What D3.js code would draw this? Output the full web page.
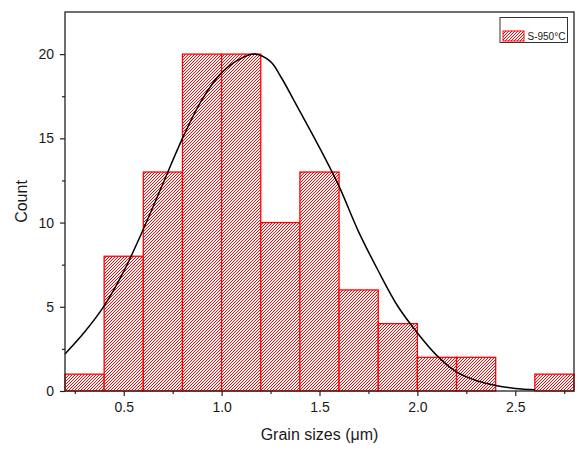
<!DOCTYPE html>
<html>
<head>
<meta charset="utf-8">
<script src="https://cdn.jsdelivr.net/npm/d3@7/dist/d3.min.js"></script>
<style>
  html, body { margin: 0; padding: 0; background: #ffffff; }
  svg { display: block; font-family: "Liberation Sans", Arial, sans-serif; }
</style>
</head>
<body>
<svg id="chart" width="584" height="451"></svg>
<script>
// Histogram bins (lower edge, µm) and counts
const binStarts = [0.2, 0.4, 0.6, 0.8, 1.0, 1.2, 1.4, 1.6, 1.8, 2.0, 2.2, 2.4, 2.6];
const binWidth = 0.2;
const counts = [1, 8, 13, 20, 20, 10, 13, 6, 4, 2, 2, 0, 1];

// Normal-fit curve sampled along grain size
const fitX = [0.2, 0.3, 0.4, 0.5, 0.6, 0.7, 0.8, 0.9, 1.0, 1.1, 1.17, 1.25, 1.3, 1.4, 1.5, 1.6, 1.7, 1.8, 1.9, 2.0, 2.1, 2.2, 2.3, 2.4, 2.5, 2.6];
const fitY = [2.2, 3.5, 5.05, 7.1, 9.6, 12.3, 15.0, 17.3, 18.9, 19.75, 20.0, 19.55, 18.7, 16.6, 14.45, 12.15, 9.45, 7.14, 5.03, 3.45, 2.1, 1.13, 0.62, 0.32, 0.15, 0.07];

// Axis ticks
const xMajorTicks = [0.5, 1.0, 1.5, 2.0, 2.5];
const xMinorTicks = [0.25, 0.75, 1.25, 1.75, 2.25, 2.75];
const yMajorTicks = [0, 5, 10, 15, 20];
const yMinorTicks = [2.5, 7.5, 12.5, 17.5];

const seriesName = "S-950°C";
const xTitle = "Grain sizes (μm)";
const yTitle = "Count";

const svg = d3.select("#chart");
const plotLeft = 65, plotRight = 574, plotTop = 12, plotBottom = 391;

const x = d3.scaleLinear().domain([0.2, 2.8]).range([plotLeft, plotRight]);
const y = d3.scaleLinear().domain([0, 22.5]).range([plotBottom, plotTop]);

const red = "#ff0000";
const axisColor = "#222222";

// Diagonal "/" hatch fill for the bars, drawn pixel by pixel on a 3px tile
const defs = svg.append("defs");
const hatch = defs.append("pattern")
  .attr("id", "hatch")
  .attr("patternUnits", "userSpaceOnUse")
  .attr("width", 3)
  .attr("height", 3);
hatch.append("rect").attr("width", 3).attr("height", 3).attr("fill", "#ffffff");
[0, 1, 2].forEach(r => {
  hatch.append("rect")
    .attr("x", 2 - r).attr("y", r)
    .attr("width", 1).attr("height", 1)
    .attr("fill", red)
    .attr("shape-rendering", "crispEdges");
});

// Bars
const bins = binStarts.map((s, i) => ({ x0: s, x1: s + binWidth, n: counts[i] }));
svg.append("g").selectAll("rect")
  .data(bins.filter(d => d.n > 0))
  .join("rect")
  .attr("x", d => x(d.x0))
  .attr("y", d => y(d.n))
  .attr("width", d => x(d.x1) - x(d.x0))
  .attr("height", d => y(0) - y(d.n))
  .attr("fill", "url(#hatch)")
  .attr("stroke", red)
  .attr("stroke-width", 1.3);

// Fit curve
const line = d3.line()
  .x(d => x(d[0]))
  .y(d => y(d[1]))
  .curve(d3.curveCatmullRom.alpha(0.5));
svg.append("path")
  .datum(fitX.map((v, i) => [v, fitY[i]]))
  .attr("d", line)
  .attr("fill", "none")
  .attr("stroke", "#000000")
  .attr("stroke-width", 1.5);

// Axes
function styleAxis(g) {
  g.select(".domain").remove();
  g.selectAll(".tick line").attr("stroke", axisColor).attr("stroke-width", 1.2);
  g.selectAll(".tick text").attr("fill", "#1a1a1a").attr("font-size", 14)
    .attr("font-family", "'Liberation Sans', Arial, sans-serif");
}

svg.append("g")
  .attr("transform", `translate(0,${plotBottom})`)
  .call(d3.axisBottom(x).tickValues(xMajorTicks).tickFormat(d3.format(".1f")).tickSize(5).tickPadding(6))
  .call(styleAxis);
svg.append("g")
  .attr("transform", `translate(0,${plotBottom})`)
  .call(d3.axisBottom(x).tickValues(xMinorTicks).tickFormat("").tickSize(3))
  .call(styleAxis);

svg.append("g")
  .attr("transform", `translate(${plotLeft},0)`)
  .call(d3.axisLeft(y).tickValues(yMajorTicks).tickFormat(d3.format("d")).tickSize(5).tickPadding(6))
  .call(styleAxis);
svg.append("g")
  .attr("transform", `translate(${plotLeft},0)`)
  .call(d3.axisLeft(y).tickValues(yMinorTicks).tickFormat("").tickSize(3))
  .call(styleAxis);

// Frame
svg.append("rect")
  .attr("x", plotLeft).attr("y", plotTop)
  .attr("width", plotRight - plotLeft).attr("height", plotBottom - plotTop)
  .attr("fill", "none")
  .attr("stroke", axisColor)
  .attr("stroke-width", 1.3);

// Axis titles
svg.append("text")
  .attr("x", (plotLeft + plotRight) / 2)
  .attr("y", 440)
  .attr("text-anchor", "middle")
  .attr("font-size", 16)
  .attr("fill", "#1a1a1a")
  .text(xTitle);
svg.append("text")
  .attr("transform", `translate(27,${(plotTop + plotBottom) / 2}) rotate(-90)`)
  .attr("text-anchor", "middle")
  .attr("font-size", 16)
  .attr("fill", "#1a1a1a")
  .text(yTitle);

// Legend
const legend = svg.append("g");
legend.append("rect")
  .attr("x", 500).attr("y", 17.5)
  .attr("width", 67.5).attr("height", 25)
  .attr("fill", "#ffffff")
  .attr("stroke", "#333333")
  .attr("stroke-width", 1);
legend.append("rect")
  .attr("x", 503).attr("y", 31)
  .attr("width", 21).attr("height", 10)
  .attr("fill", "url(#hatch)")
  .attr("stroke", red)
  .attr("stroke-width", 1);
legend.append("text")
  .attr("x", 527.5).attr("y", 40)
  .attr("font-size", 10)
  .attr("fill", "#1a1a1a")
  .text(seriesName);
</script>
</body>
</html>
